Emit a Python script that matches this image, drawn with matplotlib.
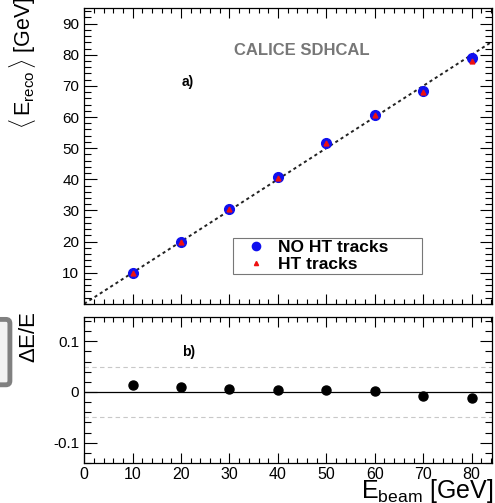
import matplotlib.pyplot as plt
from matplotlib.patches import FancyBboxPatch
from matplotlib.ticker import MultipleLocator

# beam energies and reconstructed energies (GeV)
e_beam = [10, 20, 30, 40, 50, 60, 70, 80]
e_reco_no_ht = [10.0, 19.7, 30.6, 40.6, 51.8, 60.6, 68.3, 78.8]
e_reco_ht = [10.0, 19.8, 30.6, 40.5, 51.7, 60.5, 67.9, 78.1]
# relative deviation (E_reco - E_beam) / E_beam
rel_dev = [0.014, 0.009, 0.006, 0.004, 0.004, 0.001, -0.007, -0.011]

x_major = [0, 10, 20, 30, 40, 50, 60, 70, 80]


def style_axis(ax):
    ax.tick_params(which='both', direction='in', top=True, right=True,
                   width=0.8, colors='black', labelsize=11)
    ax.tick_params(axis='x', which='major', length=7)
    ax.tick_params(axis='x', which='minor', length=3.5)
    ax.tick_params(axis='y', which='major', length=9)
    ax.tick_params(axis='y', which='minor', length=5)
    for s in ax.spines.values():
        s.set_linewidth(0.9)


def main():
    plt.rcParams['font.family'] = ['Liberation Sans', 'DejaVu Sans']
    plt.rcParams['mathtext.fontset'] = 'custom'
    plt.rcParams['mathtext.rm'] = 'Liberation Sans'
    plt.rcParams['mathtext.it'] = 'Liberation Sans'

    fig = plt.figure(figsize=(4.95, 5.03), dpi=100)
    ax1 = fig.add_axes([0.170, 0.396, 0.824, 0.588])
    ax2 = fig.add_axes([0.170, 0.0795, 0.824, 0.2905])

    # top panel: linearity
    ax1.plot([0, 100], [0, 100], color='#222222', lw=1.4,
             linestyle=(0, (1.6, 1.6)), zorder=1)
    ax1.plot(e_beam, e_reco_no_ht, 'o', color='#1010ee', ms=7,
             mec='#1010ee', zorder=3, label='NO HT tracks')
    ax1.plot(e_beam, e_reco_ht, '^', color='#ee1010', ms=3.5,
             mec='#ee1010', zorder=4, label='HT tracks')
    ax1.set_xlim(0, 84.2)
    ax1.set_ylim(0, 95)
    ax1.set_xticks(x_major)
    ax1.set_xticklabels([])
    ax1.xaxis.set_minor_locator(MultipleLocator(2))
    ax1.set_yticks(range(10, 91, 10))
    ax1.yaxis.set_minor_locator(MultipleLocator(2))
    style_axis(ax1)
    ax1.text(0.255, 0.75, 'a)', transform=ax1.transAxes, fontsize=10,
             fontweight='bold', ha='center', va='center')
    ax1.text(0.533, 0.857, 'CALICE SDHCAL', transform=ax1.transAxes,
             fontsize=12, fontweight='bold', color='#777777',
             ha='center', va='center')
    leg = ax1.legend(loc='upper left', bbox_to_anchor=(0.365, 0.098, 0.463, 0.124),
                     mode='expand', borderaxespad=0, frameon=True,
                     fancybox=False, borderpad=0.1, handletextpad=0.1,
                     labelspacing=0.12, handlelength=2.4, markerscale=0.85,
                     prop={'weight': 'bold', 'size': 12.5})
    leg.get_frame().set_edgecolor('#555555')
    leg.get_frame().set_linewidth(0.8)
    ax1.set_ylabel(r'$\langle\,$E$_{\rm reco}\,\rangle$ [GeV]', fontsize=15.5)
    ax1.yaxis.set_label_coords(-0.112, 0.815)

    # bottom panel: relative deviation
    ax2.axhline(0, color='black', lw=0.9, zorder=1)
    ax2.axhline(0.05, color='#c8c8c8', lw=0.8, linestyle=(0, (4, 3)))
    ax2.axhline(-0.05, color='#c8c8c8', lw=0.8, linestyle=(0, (4, 3)))
    ax2.plot(e_beam, rel_dev, 'o', color='black', ms=6.5, zorder=3)
    ax2.set_xlim(0, 84.2)
    ax2.set_ylim(-0.14, 0.148)
    ax2.set_xticks(x_major)
    ax2.xaxis.set_minor_locator(MultipleLocator(2))
    ax2.set_yticks([-0.1, 0, 0.1])
    ax2.set_yticklabels(['-0.1', '0', '0.1'])
    ax2.yaxis.set_minor_locator(MultipleLocator(0.02))
    style_axis(ax2)
    ax2.tick_params(axis='x', labelsize=11.5, pad=3)
    ax2.text(0.255, 0.76, 'b)', transform=ax2.transAxes, fontsize=10,
             fontweight='bold', ha='center', va='center')
    ax2.set_ylabel(r'$\Delta$E/E', fontsize=16)
    ax2.yaxis.set_label_coords(-0.108, 0.86)
    fig.text(0.997, 0.0099, r'E$_{\rm beam}$ [GeV]', fontsize=18,
             ha='right', va='baseline')

    # grey box on the left edge
    box = FancyBboxPatch((-0.03, 0.235), 0.05, 0.13,
                         boxstyle='round,pad=0,rounding_size=0.008',
                         transform=fig.transFigure, facecolor='#f2f2f2',
                         edgecolor='#808080', linewidth=3.5)
    fig.patches.append(box)

    fig.savefig('out.png', dpi=100)


if __name__ == "__main__":
    main()
